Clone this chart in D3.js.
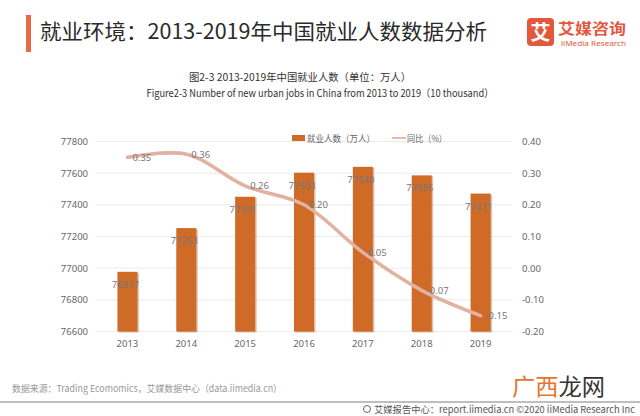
<!DOCTYPE html>
<html>
<head>
<meta charset="utf-8">
<script src="https://cdn.jsdelivr.net/npm/d3@7"></script>
<style>
  body { margin: 0; background: #fff; }
  text { font-family: "Noto Sans", "Noto Sans CJK SC", sans-serif; }
</style>
</head>
<body>
<svg id="chart" width="640" height="416"></svg>
<script>
// data
const years = ["2013", "2014", "2015", "2016", "2017", "2018", "2019"];
const jobs = [76977, 77253, 77451, 77603, 77640, 77586, 77471];
const yoy = [0.35, 0.36, 0.26, 0.20, 0.05, -0.07, -0.15];
const leftTicks = [76600, 76800, 77000, 77200, 77400, 77600, 77800];
const rightTicks = [-0.2, -0.1, 0, 0.1, 0.2, 0.3, 0.4];

const svg = d3.select("#chart");
const cjk = '"Noto Sans CJK SC", sans-serif';

svg.append("rect").attr("width", 640).attr("height", 416).attr("fill", "#fff");

// header
svg.append("rect").attr("x", 26).attr("y", 15).attr("width", 5).attr("height", 37).attr("fill", "#ea6a45");
svg.append("text")
  .attr("x", 40).attr("y", 39)
  .attr("textLength", 447).attr("lengthAdjust", "spacingAndGlyphs")
  .style("font-family", cjk).style("font-size", "21px").style("font-weight", "400").attr("fill", "#2a2a2a")
  .text("就业环境：2013-2019年中国就业人数数据分析");

// logo
svg.append("rect").attr("x", 527).attr("y", 18).attr("width", 27).attr("height", 28).attr("rx", 4).attr("fill", "#e4573c");
svg.append("text").attr("x", 540.5).attr("y", 40).attr("text-anchor", "middle")
  .style("font-family", cjk).style("font-size", "20px").style("font-weight", "bold")
  .attr("fill", "#fff").text("艾");
svg.append("text").attr("x", 558).attr("y", 34)
  .attr("textLength", 68).attr("lengthAdjust", "spacingAndGlyphs")
  .style("font-family", cjk).style("font-size", "15px").style("font-weight", "bold")
  .attr("fill", "#e4573c").text("艾媒咨询");
svg.append("text").attr("x", 561).attr("y", 46)
  .attr("textLength", 65).attr("lengthAdjust", "spacingAndGlyphs")
  .style("font-size", "7.5px").attr("fill", "#e4573c").text("iiMedia Research");

// chart titles
svg.append("text").attr("x", 300).attr("y", 81).attr("text-anchor", "middle")
  .attr("textLength", 222).attr("lengthAdjust", "spacingAndGlyphs")
  .style("font-family", cjk).style("font-size", "10.5px").attr("fill", "#333")
  .text("图2-3 2013-2019年中国就业人数（单位：万人）");
svg.append("text").attr("x", 320).attr("y", 97).attr("text-anchor", "middle")
  .attr("textLength", 347).attr("lengthAdjust", "spacingAndGlyphs")
  .style("font-family", cjk).style("font-size", "10.5px").attr("fill", "#333")
  .text("Figure2-3 Number of new urban jobs in China from 2013 to 2019（10 thousand）");

// scales
const x = d3.scaleBand().domain(years).range([98, 510]).paddingInner(0.66).paddingOuter(0.33);
const y = d3.scaleLinear().domain([76600, 77800]).range([331.5, 141.5]);
const y2 = d3.scaleLinear().domain([-0.2, 0.4]).range([331.5, 141.5]);

// grid
svg.append("g").selectAll("line").data(leftTicks).join("line")
  .attr("x1", 96).attr("x2", 512)
  .attr("y1", d => y(d)).attr("y2", d => y(d))
  .attr("stroke", "#ebebeb").attr("stroke-width", 1);

// axes
const leftAxis = svg.append("g").attr("transform", "translate(92,0)")
  .call(d3.axisLeft(y).tickValues(leftTicks).tickSize(0).tickPadding(4).tickFormat(d3.format("d")));
const rightAxis = svg.append("g").attr("transform", "translate(518,0)")
  .call(d3.axisRight(y2).tickValues(rightTicks).tickSize(0).tickPadding(4));
const bottomAxis = svg.append("g").attr("transform", "translate(0,336)")
  .call(d3.axisBottom(x).tickSize(0).tickPadding(4));
[leftAxis, rightAxis, bottomAxis].forEach(a => {
  a.select(".domain").remove();
  a.selectAll("text").style("font-size", "9.5px").attr("fill", "#666")
    .style("font-family", '"Noto Sans", sans-serif');
});
rightAxis.selectAll("text").text(d => d3.format(".2f")(d).replace("−", "-"));

// bars
const bars = svg.append("g");
bars.selectAll("rect.shadow").data(jobs).join("rect").attr("class", "shadow")
  .attr("x", (d, i) => x(years[i]) + 1.5).attr("y", d => y(d) + 1)
  .attr("width", x.bandwidth()).attr("height", d => y(76600) - y(d))
  .attr("fill", "#9c4c1c").attr("opacity", 0.35);
bars.selectAll("rect.bar").data(jobs).join("rect").attr("class", "bar")
  .attr("x", (d, i) => x(years[i])).attr("y", d => y(d))
  .attr("width", x.bandwidth()).attr("height", d => y(76600) - y(d))
  .attr("fill", "#d06a27");
bars.selectAll("text").data(jobs).join("text")
  .attr("x", (d, i) => x(years[i]) + x.bandwidth() / 2 - 2)
  .attr("y", d => y(d) + 16)
  .attr("text-anchor", "middle")
  .style("font-size", "9.5px").attr("fill", "#777")
  .text(d => d);

// line
const cx = (d, i) => x(years[i]) + x.bandwidth() / 2;
const line = d3.line().x(cx).y(d => y2(d)).curve(d3.curveCatmullRom.alpha(0.5));
svg.append("path").datum(yoy).attr("d", line).attr("transform", "translate(0,1)")
  .attr("fill", "none").attr("stroke", "#a8552e").attr("stroke-width", 1).attr("opacity", 0.7);
svg.append("path").datum(yoy).attr("d", line)
  .attr("fill", "none").attr("stroke", "#e2b2a0").attr("stroke-width", 3.5).attr("stroke-linecap", "round");

svg.append("g").selectAll("text").data(yoy).join("text")
  .attr("x", (d, i) => cx(d, i) + 5)
  .attr("y", d => y2(d) + 3.5)
  .style("font-size", "9.5px").attr("fill", "#777")
  .text(d => d3.format(".2f")(d).replace("−", "-"));

// legend
svg.append("rect").attr("x", 292).attr("y", 135).attr("width", 13).attr("height", 6).attr("fill", "#d06a27");
svg.append("text").attr("x", 307).attr("y", 141.5)
  .attr("textLength", 68).attr("lengthAdjust", "spacingAndGlyphs")
  .style("font-family", cjk).style("font-size", "9px").attr("fill", "#666").text("就业人数（万人）");
svg.append("line").attr("x1", 392).attr("x2", 406).attr("y1", 138).attr("y2", 138)
  .attr("stroke", "#e2a48c").attr("stroke-width", 1.5);
svg.append("text").attr("x", 407).attr("y", 141.5)
  .attr("textLength", 40).attr("lengthAdjust", "spacingAndGlyphs")
  .style("font-family", cjk).style("font-size", "9px").attr("fill", "#666").text("同比（%）");

// footer
svg.append("text").attr("x", 12).attr("y", 392)
  .attr("textLength", 270).attr("lengthAdjust", "spacingAndGlyphs")
  .style("font-family", cjk).style("font-size", "9.5px").attr("fill", "#999")
  .text("数据来源：Trading Ecomomics，艾媒数据中心（data.iimedia.cn）");
const wm = svg.append("text").attr("x", 512).attr("y", 395)
  .attr("textLength", 93).attr("lengthAdjust", "spacingAndGlyphs")
  .style("font-family", cjk).style("font-size", "23px");
wm.append("tspan").attr("fill", "#e8742c").text("广西");
wm.append("tspan").attr("fill", "#333").text("龙网");
svg.append("line").attr("x1", 0).attr("x2", 640).attr("y1", 402).attr("y2", 402)
  .attr("stroke", "#a8a8a8").attr("stroke-width", 1.5);
svg.append("circle").attr("cx", 367).attr("cy", 409).attr("r", 3.5)
  .attr("fill", "none").attr("stroke", "#666").attr("stroke-width", 1);
svg.append("text").attr("x", 374).attr("y", 412.5)
  .attr("textLength", 261).attr("lengthAdjust", "spacingAndGlyphs")
  .style("font-family", cjk).style("font-size", "9.5px").attr("fill", "#555")
  .text("艾媒报告中心：report.iimedia.cn  ©2020  iiMedia Research Inc");
</script>
</body>
</html>
